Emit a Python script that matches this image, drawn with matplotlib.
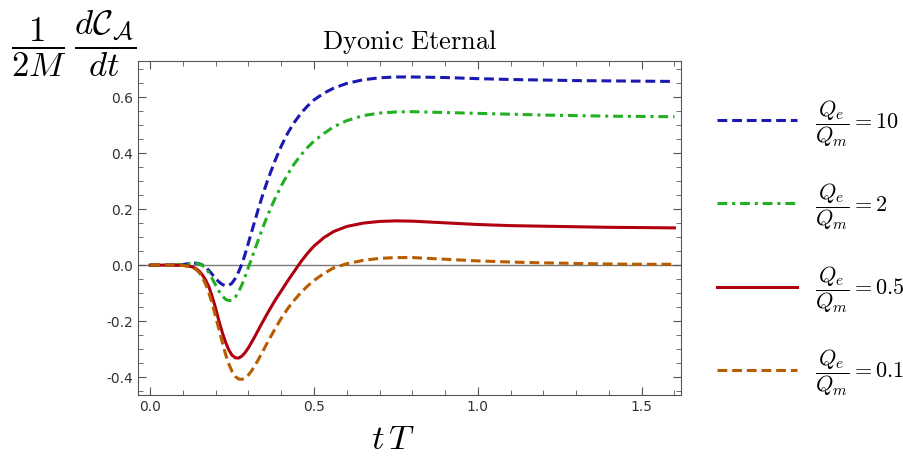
import matplotlib.pyplot as plt
import matplotlib.ticker as ticker

plt.rcParams["mathtext.fontset"] = "cm"

# values
x_10 = [0, 0.05, 0.10, 0.12, 0.14, 0.15, 0.16, 0.17, 0.18, 0.19, 0.20, 0.21, 0.22, 0.23, 0.24,
        0.25, 0.26, 0.27, 0.28, 0.29, 0.30, 0.31, 0.32, 0.33, 0.34, 0.35, 0.36, 0.38, 0.40,
        0.42, 0.44, 0.46, 0.48, 0.50, 0.53, 0.56, 0.60, 0.65, 0.70, 0.75, 0.80, 0.90, 1.00,
        1.10, 1.20, 1.30, 1.40, 1.50, 1.60]
y_10 = [0, 0, 0.002, 0.006, 0.007, 0.005, 0.0, -0.008, -0.02, -0.034, -0.048, -0.06, -0.069,
        -0.074, -0.073, -0.064, -0.047, -0.024, 0.004, 0.04, 0.08, 0.12, 0.16, 0.20, 0.238,
        0.274, 0.308, 0.37, 0.425, 0.472, 0.51, 0.542, 0.568, 0.59, 0.614, 0.632, 0.649,
        0.662, 0.669, 0.672, 0.672, 0.670, 0.666, 0.663, 0.661, 0.659, 0.658, 0.657, 0.656]

x_2 = x_10
y_2 = [0, 0, 0.002, 0.006, 0.007, 0.004, -0.002, -0.012, -0.028, -0.05, -0.072, -0.093, -0.11,
       -0.122, -0.127, -0.125, -0.114, -0.095, -0.07, -0.04, -0.008, 0.025, 0.058, 0.09, 0.122,
       0.153, 0.182, 0.235, 0.283, 0.325, 0.362, 0.393, 0.42, 0.443, 0.47, 0.494, 0.516,
       0.534, 0.543, 0.547, 0.548, 0.545, 0.542, 0.539, 0.536, 0.534, 0.532, 0.531, 0.530]

x_05 = [0, 0.05, 0.10, 0.12, 0.13, 0.14, 0.15, 0.16, 0.17, 0.18, 0.19, 0.20, 0.21, 0.22, 0.23,
        0.24, 0.25, 0.26, 0.27, 0.28, 0.29, 0.30, 0.31, 0.32, 0.33, 0.34, 0.35, 0.36, 0.38,
        0.40, 0.42, 0.44, 0.46, 0.48, 0.50, 0.53, 0.56, 0.60, 0.65, 0.70, 0.75, 0.80, 0.90,
        1.0, 1.1, 1.2, 1.3, 1.4, 1.5, 1.6]
y_05 = [0, 0, -0.001, -0.004, -0.007, -0.013, -0.022, -0.036, -0.055, -0.08, -0.115, -0.155,
        -0.2, -0.24, -0.275, -0.303, -0.322, -0.331, -0.332, -0.325, -0.312, -0.295, -0.275,
        -0.254, -0.232, -0.21, -0.189, -0.168, -0.128, -0.092, -0.056, -0.022, 0.012, 0.042,
        0.068, 0.098, 0.12, 0.138, 0.15, 0.156, 0.158, 0.157, 0.151, 0.145, 0.141, 0.139,
        0.137, 0.135, 0.134, 0.133]

x_01 = x_05
y_01 = [0, 0, -0.001, -0.005, -0.009, -0.016, -0.027, -0.045, -0.07, -0.102, -0.14, -0.185,
        -0.23, -0.275, -0.318, -0.353, -0.38, -0.398, -0.407, -0.408, -0.403, -0.392, -0.377,
        -0.358, -0.338, -0.316, -0.294, -0.272, -0.23, -0.19, -0.155, -0.125, -0.098, -0.075,
        -0.055, -0.03, -0.01, 0.005, 0.017, 0.024, 0.027, 0.027, 0.021, 0.015, 0.011, 0.008,
        0.006, 0.004, 0.003, 0.003]

labels = [r"$\dfrac{Q_e}{Q_m}=10$", r"$\dfrac{Q_e}{Q_m}=2$",
          r"$\dfrac{Q_e}{Q_m}=0.5$", r"$\dfrac{Q_e}{Q_m}=0.1$"]

fig = plt.figure(figsize=(9.04, 4.65), dpi=100)
ax = fig.add_axes([0.1527, 0.1505, 0.6006, 0.7183])

ax.axhline(0, color="#7a7a7a", lw=1.0, zorder=1)
ax.plot(x_10, y_10, color="#1a1ab0", lw=2.2, dashes=(3.2, 1.6), label=labels[0])
ax.plot(x_2, y_2, color="#22b022", lw=2.2, dashes=(3.2, 1.6, 1.0, 1.6), label=labels[1])
ax.plot(x_05, y_05, color="#b00010", lw=2.2, label=labels[2])
ax.plot(x_01, y_01, color="#b85c00", lw=2.2, dashes=(3.2, 1.6), label=labels[3])

ax.set_xlim(-0.037, 1.62)
ax.set_ylim(-0.464, 0.729)
ax.xaxis.set_major_locator(ticker.MultipleLocator(0.5))
ax.xaxis.set_minor_locator(ticker.MultipleLocator(0.1))
ax.yaxis.set_major_locator(ticker.MultipleLocator(0.2))
ax.yaxis.set_minor_locator(ticker.MultipleLocator(0.05))
ax.xaxis.set_major_formatter(ticker.FormatStrFormatter("%.1f"))
ax.yaxis.set_major_formatter(ticker.FormatStrFormatter("%.1f"))
ax.tick_params(which="both", direction="in", top=True, right=True, colors="#555555",
               labelcolor="#333333", labelsize=10)
ax.tick_params(which="major", length=6)
ax.tick_params(which="minor", length=3.5)
for s in ax.spines.values():
    s.set_color("#555555")

ax.set_title(r"$\mathrm{Dyonic\ Eternal}$", fontsize=19, pad=9)
fig.text(0.012, 0.982, r"$\dfrac{1}{2M}\;\dfrac{d\mathcal{C}_\mathcal{A}}{dt}$",
         fontsize=25, ha="left", va="top")
fig.text(0.435, 0.02, r"$t\,T$", fontsize=25, ha="center", va="bottom")

ax.legend(loc="center left", bbox_to_anchor=(1.03, 0.44), frameon=False, fontsize=16,
          handlelength=3.6, handletextpad=0.8, labelspacing=1.45)

fig.savefig("out.png", dpi=100)
